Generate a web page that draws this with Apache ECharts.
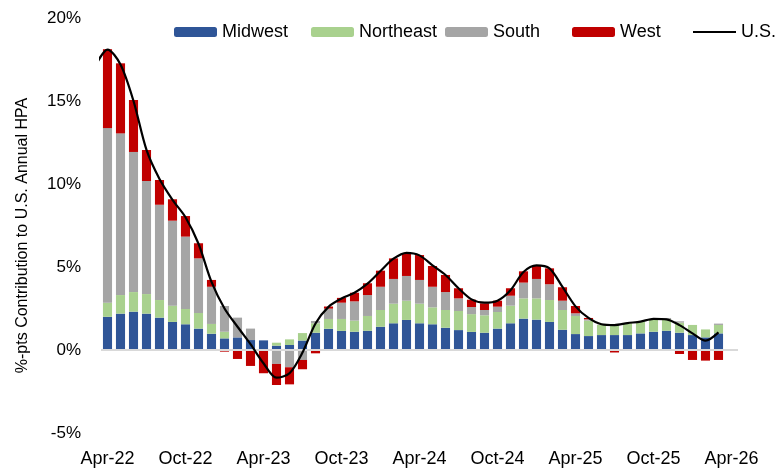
<!DOCTYPE html>
<html>
<head>
<meta charset="utf-8">
<script src="https://cdn.jsdelivr.net/npm/echarts@6/dist/echarts.min.js"></script>
<style>html,body{margin:0;padding:0;background:#fff;}#c{width:784px;height:470px;}</style>
</head>
<body>
<div id="c"></div>
<script>
const categories = ['Apr-22','May-22','Jun-22','Jul-22','Aug-22','Sep-22','Oct-22','Nov-22','Dec-22','Jan-23','Feb-23','Mar-23',
  'Apr-23','May-23','Jun-23','Jul-23','Aug-23','Sep-23','Oct-23','Nov-23','Dec-23','Jan-24','Feb-24','Mar-24',
  'Apr-24','May-24','Jun-24','Jul-24','Aug-24','Sep-24','Oct-24','Nov-24','Dec-24','Jan-25','Feb-25','Mar-25',
  'Apr-25','May-25','Jun-25','Jul-25','Aug-25','Sep-25','Oct-25','Nov-25','Dec-25','Jan-26','Feb-26','Mar-26','Apr-26'];
const midwest = [2.00,2.19,2.31,2.19,1.95,1.69,1.55,1.29,0.98,0.70,0.76,0.60,0.58,0.26,0.30,0.57,1.04,1.28,1.15,1.10,1.16,1.40,1.61,1.81,
  1.61,1.55,1.34,1.20,1.09,1.04,1.29,1.61,1.89,1.83,1.69,1.22,0.96,0.84,0.90,0.90,0.90,1.00,1.10,1.16,1.04,0.90,0.76,1.00];
const northeast = [0.85,1.12,1.18,1.18,1.06,0.98,0.92,0.94,0.59,0.40,0.00,0.00,0.00,0.18,0.34,0.45,0.57,0.59,0.72,0.67,0.89,1.01,1.18,1.16,
  1.18,1.02,1.07,1.15,1.07,1.05,1.00,1.06,1.22,1.28,1.32,1.19,1.09,0.93,0.61,0.58,0.71,0.71,0.71,0.69,0.61,0.61,0.48,0.51];
const south = [10.52,9.74,8.44,6.81,5.74,5.12,4.36,3.29,2.24,1.55,1.19,0.69,0.00,-0.84,-1.04,-0.60,0.14,0.62,0.98,1.16,1.26,1.40,1.49,1.49,
  1.43,1.24,1.08,0.76,0.43,0.32,0.32,0.60,0.95,1.17,0.95,0.56,0.16,0.08,0.02,0.00,0.00,0.00,0.00,0.08,0.08,0.00,0.00,0.08];
const west = [4.75,4.22,3.13,1.87,1.49,1.29,1.24,0.91,0.41,-0.10,-0.54,-0.96,-1.40,-1.27,-1.03,-0.56,-0.20,0.13,0.29,0.52,0.71,0.97,1.24,1.37,
  1.50,1.25,1.03,0.61,0.44,0.40,0.36,0.45,0.68,0.80,0.96,0.81,0.44,0.08,-0.03,-0.15,-0.05,-0.05,-0.05,-0.05,-0.24,-0.60,-0.64,-0.60];
// U.S. line: first value is Mar-22 (one month before first bar), then Apr-22 .. Mar-26
const usStartIndex = -1;
const us = [17.0,18.1,17.2,15.0,12.05,10.3,9.05,8.0,6.4,4.1,2.5,1.40,0.35,-0.8,-1.67,-1.4,-0.15,1.6,2.6,3.1,3.45,4.0,4.76,5.5,5.85,
  5.7,5.1,4.52,3.72,3.05,2.85,2.97,3.6,4.7,5.1,4.92,3.8,2.63,1.93,1.55,1.5,1.62,1.71,1.88,1.85,1.5,1.0,0.56,1.06];
const yTicks = {min:-5, max:20, interval:5};

const font = 'Liberation Sans, Arial, sans-serif';
const chart = echarts.init(document.getElementById('c'), null, {renderer:'canvas'});
const barCommon = {type:'bar', stack:'reg', barWidth:'70%', xAxisIndex:0, yAxisIndex:0};
const usData = us.map((v,i)=>[i+usStartIndex, v]);
const legendBase = {top:18, itemWidth:43, itemHeight:10, itemGap:0, textStyle:{fontSize:18, fontFamily:font, color:'#000', padding:[0,0,0,0]}, selectedMode:false};
chart.setOption({
  animation:false,
  textStyle:{fontFamily:font},
  grid:{left:101, right:46, top:18, bottom:37},
  legend:[
    Object.assign({}, legendBase, {left:169, data:['Midwest']}),
    Object.assign({}, legendBase, {left:306, data:['Northeast']}),
    Object.assign({}, legendBase, {left:440, data:['South']}),
    Object.assign({}, legendBase, {left:567, data:['West']}),
    Object.assign({}, legendBase, {left:688, itemHeight:2, data:[{name:'U.S.', icon:'rect'}]})
  ],
  xAxis:[
    {type:'category', data:categories, boundaryGap:true, position:'bottom',
     axisLine:{show:false, onZero:false}, axisTick:{show:false},
     axisLabel:{interval:5, margin:17, fontSize:18, color:'#000', fontFamily:font}},
    {type:'value', min:-0.5, max:categories.length-0.5, show:false}
  ],
  yAxis:{type:'value', min:yTicks.min, max:yTicks.max, interval:yTicks.interval,
    axisLine:{show:false}, axisTick:{show:false}, splitLine:{show:false},
    axisLabel:{formatter:'{value}%', fontSize:17, color:'#000', margin:20, fontFamily:font},
    name:'%-pts Contribution to U.S. Annual HPA', nameLocation:'middle', nameGap:70,
    nameTextStyle:{fontSize:16, color:'#000', fontFamily:font, padding:[0,20,0,0]}},
  series:[
    Object.assign({}, barCommon, {name:'Midwest', data:midwest, itemStyle:{color:'#2F5597'},
      markLine:{silent:true, symbol:'none', label:{show:false}, data:[{yAxis:0}],
        lineStyle:{color:'#d9d9d9', width:2, type:'solid'}}}),
    Object.assign({}, barCommon, {name:'Northeast', data:northeast, itemStyle:{color:'#A9D18E'}}),
    Object.assign({}, barCommon, {name:'South', data:south, itemStyle:{color:'#A5A5A5'}}),
    Object.assign({}, barCommon, {name:'West', data:west, itemStyle:{color:'#C00000'}}),
    {name:'U.S.', type:'line', xAxisIndex:1, yAxisIndex:0, data:usData, smooth:0.3, symbol:'none',
     lineStyle:{color:'#000', width:2.2}, itemStyle:{color:'#000'}, clip:true, z:5}
  ]
});
</script>
</body>
</html>
